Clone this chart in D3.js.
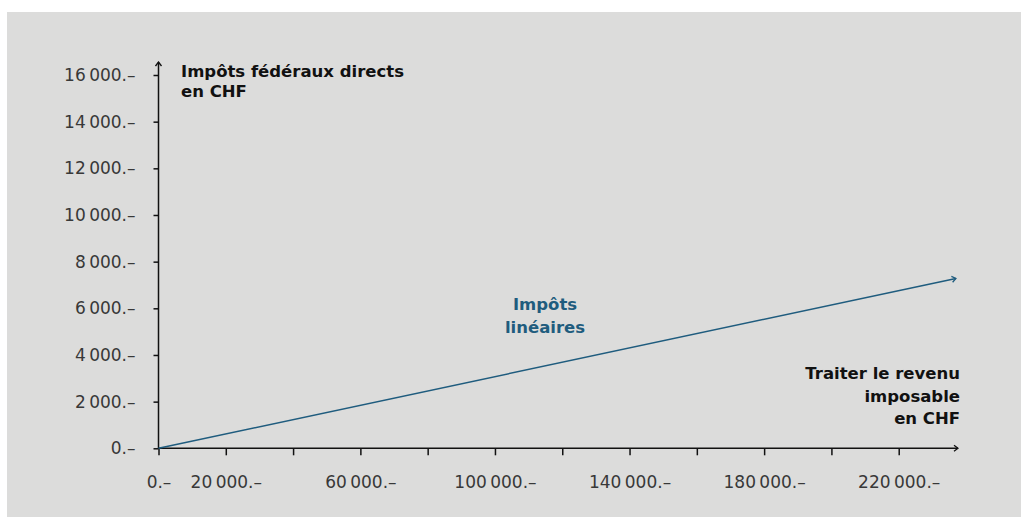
<!DOCTYPE html>
<html>
<head>
<meta charset="utf-8">
<script src="https://cdn.jsdelivr.net/npm/d3@7"></script>
<style>
  html, body { margin: 0; padding: 0; background: #fff; }
  svg { display: block; }
  .tick text { font-family: "DejaVu Sans", sans-serif; font-size: 17px; fill: #383838; }
  .title { font-family: "DejaVu Sans", sans-serif; font-weight: bold; font-size: 16.5px; fill: #111; }
</style>
</head>
<body>
<svg id="chart" width="1021" height="517"></svg>
<script>
// values
let incomeTicks   = d3.range(0, 240000, 20000);
let incomeLabeled = [0, 20000, 60000, 100000, 140000, 180000, 220000];
let taxTicks      = d3.range(0, 16001, 2000);

let income = [0, 237000];
let tax    = [0, 7280];

let yTitle    = ['Impôts fédéraux directs', 'en CHF'];
let xTitle    = ['Traiter le revenu', 'imposable', 'en CHF'];
let lineLabel = ['Impôts', 'linéaires'];

let lineColor = '#1f5c7e';

let svg = d3.select('#chart');

svg.append('rect')
  .attr('x', 7).attr('y', 12)
  .attr('width', 1021 - 7).attr('height', 517 - 12)
  .attr('fill', '#dcdcdb');

let defs = svg.append('defs');
function arrow(id, color) {
  defs.append('marker')
    .attr('id', id)
    .attr('viewBox', '0 0 6 8')
    .attr('refX', 5).attr('refY', 4)
    .attr('markerWidth', 6).attr('markerHeight', 8)
    .attr('markerUnits', 'userSpaceOnUse')
    .attr('orient', 'auto')
    .append('path')
    .attr('d', 'M1,1 L5,4 L1,7')
    .attr('fill', 'none')
    .attr('stroke', color)
    .attr('stroke-width', 1.3);
}
arrow('arrAxis', '#111');
arrow('arrLine', lineColor);

const x = d3.scaleLinear().domain([0, 240000]).range([158.5, 966]);
const y = d3.scaleLinear().domain([0, 16000]).range([448.3, 75]);

let loc = d3.formatLocale({ decimal: '.', thousands: '\u2009', grouping: [3], currency: ['', ''] });
let fmt = v => loc.format(',')(v) + '.\u2013';

// y axis
let gy = svg.append('g')
  .attr('transform', `translate(${x(0)},0)`)
  .call(d3.axisLeft(y).tickValues(taxTicks).tickSize(5).tickPadding(18).tickFormat(fmt));
gy.select('.domain').remove();
gy.selectAll('.tick line').attr('stroke', '#111').attr('stroke-width', 1.5);

// x axis
let gx = svg.append('g')
  .attr('transform', `translate(0,${y(0)})`)
  .call(d3.axisBottom(x).tickValues(incomeTicks).tickSize(7).tickPadding(21)
    .tickFormat(d => incomeLabeled.includes(d) ? fmt(d) : ''));
gx.select('.domain').remove();
gx.selectAll('.tick line').attr('stroke', '#111').attr('stroke-width', 1.5);

// axis lines with arrows
svg.append('line')
  .attr('x1', x(0)).attr('y1', y(0))
  .attr('x2', x(0)).attr('y2', 62)
  .attr('stroke', '#111').attr('stroke-width', 1.5)
  .attr('marker-end', 'url(#arrAxis)');
svg.append('line')
  .attr('x1', x(0)).attr('y1', y(0))
  .attr('x2', 958).attr('y2', y(0))
  .attr('stroke', '#111').attr('stroke-width', 1.5)
  .attr('marker-end', 'url(#arrAxis)');

// tax line
let pts = income.map((d, i) => [x(d), y(tax[i])]);
svg.append('path')
  .attr('d', d3.line()(pts))
  .attr('fill', 'none')
  .attr('stroke', lineColor)
  .attr('stroke-width', 1.5)
  .attr('marker-end', 'url(#arrLine)');

// titles
svg.append('text').attr('class', 'title')
  .attr('x', 181).attr('y', 77)
  .selectAll('tspan').data(yTitle).join('tspan')
  .attr('x', 181).attr('dy', (d, i) => i ? 20 : 0)
  .text(d => d);

svg.append('text').attr('class', 'title')
  .attr('text-anchor', 'end')
  .attr('x', 960).attr('y', 379)
  .selectAll('tspan').data(xTitle).join('tspan')
  .attr('x', 960).attr('dy', (d, i) => i ? 22.5 : 0)
  .text(d => d);

svg.append('text').attr('class', 'title')
  .attr('text-anchor', 'middle')
  .style('fill', lineColor)
  .attr('x', 545).attr('y', 310)
  .selectAll('tspan').data(lineLabel).join('tspan')
  .attr('x', 545).attr('dy', (d, i) => i ? 23 : 0)
  .text(d => d);
</script>
</body>
</html>
